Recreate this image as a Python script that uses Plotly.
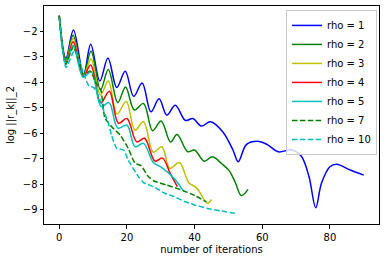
import plotly.graph_objects as go

# ---- data (iteration, log residual) ----
rho1_x = [0, 2, 4.2, 7.2, 9.3, 12, 14.4, 17, 19.5, 22, 24.5, 27.1, 29.5, 31.8, 34.3, 37.3, 39.5,
          42, 44.7, 48.3, 51.3, 52.9, 55.3, 58.5, 61.5, 64.7, 68.7, 71.5, 73.8, 75.8, 77.5, 80,
          82, 86, 90]
rho1_y = [-1.38, -3.05, -1.94, -3.7, -2.5, -3.95, -3.04, -4.2, -3.57, -4.55, -4.03, -5.16, -4.65,
          -5.29, -4.9, -5.5, -5.42, -5.72, -5.55, -5.94, -6.65, -7.12, -6.45, -6.32, -6.45, -6.73,
          -6.66, -6.9, -7.7, -8.93, -7.97, -7.32, -7.22, -7.45, -7.65]

rho2_x = [0, 2, 4.1, 7.1, 9.4, 12.2, 14.5, 17.3, 19.6, 22.2, 24.9, 27.6, 30.1, 32.9, 34.8, 38, 40,
          42.8, 45.3, 48, 50.2, 52, 53.8, 55.8]
rho2_y = [-1.38, -3.12, -2.15, -3.75, -2.78, -4.3, -3.5, -4.8, -4.18, -5.09, -4.83, -5.9, -5.52,
          -6.35, -6.05, -6.73, -6.66, -7.1, -6.93, -7.2, -7.47, -7.93, -8.45, -8.21]

rho3_x = [0, 2, 4.1, 7.1, 9.4, 12.2, 14.5, 17.1, 19.8, 22.4, 24.9, 27.8, 30.3, 32.7, 35.5, 38.3,
          40.6, 43.8, 45]
rho3_y = [-1.38, -3.18, -2.28, -3.77, -3.08, -4.5, -3.95, -5.25, -4.75, -5.88, -5.55, -6.75, -6.53,
          -7.38, -7.15, -7.95, -8.15, -8.75, -8.6]

rho4_x = [0, 2, 4.1, 7.1, 9.3, 12.3, 14.8, 17.5, 20, 22.9, 25.2, 28.3, 30.5, 32.8, 34.9]
rho4_y = [-1.38, -3.22, -2.41, -3.78, -3.32, -4.8, -4.35, -5.61, -5.42, -6.34, -6.2, -7.1, -6.98,
          -7.58, -8.1]

rho5_x = [0, 2, 4.1, 7.1, 9.5, 12.4, 14.7, 17.3, 20, 22.4, 24.9, 27.8, 30.3, 33, 35, 36.8]
rho5_y = [-1.38, -3.28, -2.54, -3.8, -3.59, -4.95, -4.8, -5.8, -5.68, -6.53, -6.4, -7.15, -7.35,
          -7.65, -7.95, -8.3]

rho7_x = [0, 1.9, 4.2, 7.3, 9.1, 11, 12.3, 13.5, 15.5, 18, 20.4, 22.4, 24.2, 26.3, 28, 31.8, 36.7,
          40, 43.5]
rho7_y = [-1.4, -3.3, -2.6, -3.72, -3.55, -4.05, -4.3, -5.4, -5.75, -6.07, -6.6, -7.18, -7.28,
          -7.7, -7.88, -8.04, -8.26, -8.45, -8.7]

rho10_x = [0, 2, 4.5, 7.5, 8.8, 10.2, 11.7, 13.1, 14.5, 15.5, 17, 19, 20.4, 23.4, 25, 27.8, 31,
           33.7, 37, 40, 43.6, 47.5, 51.9]
rho10_y = [-1.45, -3.42, -2.75, -3.75, -4.15, -4.2, -4.57, -5.1, -5.6, -6.1, -6.6, -6.66, -7.06,
           -7.71, -7.95, -8.1, -8.35, -8.48, -8.68, -8.82, -8.95, -9.05, -9.15]

series = [
    ("rho = 1", rho1_x, rho1_y),
    ("rho = 2", rho2_x, rho2_y),
    ("rho = 3", rho3_x, rho3_y),
    ("rho = 4", rho4_x, rho4_y),
    ("rho = 5", rho5_x, rho5_y),
    ("rho = 7", rho7_x, rho7_y),
    ("rho = 10", rho10_x, rho10_y),
]
colors = ["#0000ff", "#008000", "#bfbf00", "#ff0000", "#00bfbf", "#008000", "#00bfbf"]
dashes = ["solid", "solid", "solid", "solid", "solid", "5.5px,2.4px", "5.5px,2.4px"]
smooth = [1.0, 1.0, 1.0, 1.0, 1.0, 0.5, 0.5]

fig = go.Figure()
for (name, xs, ys), c, d, s in zip(series, colors, dashes, smooth):
    fig.add_trace(go.Scatter(
        x=xs, y=ys, name=name, mode="lines",
        line=dict(color=c, width=1.5, dash=d, shape="spline", smoothing=s),
    ))

font = dict(family="DejaVu Sans", size=10, color="black")
axis_common = dict(
    showline=True, linecolor="black", linewidth=1, mirror=True,
    ticks="outside", ticklen=3.5, tickcolor="black", tickwidth=1,
    showgrid=False, zeroline=False, tickfont=font, automargin=False,
)
fig.update_layout(
    width=385, height=262,
    margin=dict(l=44, r=6, t=6, b=38, autoexpand=False),
    paper_bgcolor="white", plot_bgcolor="white",
    font=font,
    showlegend=True,
    legend=dict(
        x=0.994, y=0.982, xanchor="right", yanchor="top",
        bgcolor="rgba(255,255,255,0.8)", bordercolor="#cccccc", borderwidth=1,
        font=dict(family="DejaVu Sans", size=10, color="black"),
        itemwidth=30, tracegroupgap=0,
    ),
    xaxis=dict(range=[-4.5, 94.5], tickvals=[0, 20, 40, 60, 80],
               title=dict(text="number of iterations", font=font, standoff=4), **axis_common),
    yaxis=dict(range=[-9.57, -1.0], tickvals=[-9, -8, -7, -6, -5, -4, -3, -2],
               title=dict(text="log ||r_k||_2", font=font, standoff=6), **axis_common),
)
fig.write_html("out.html",
               config={"displayModeBar": False},
               post_script="document.body.style.margin='0';document.body.style.padding='0';")
